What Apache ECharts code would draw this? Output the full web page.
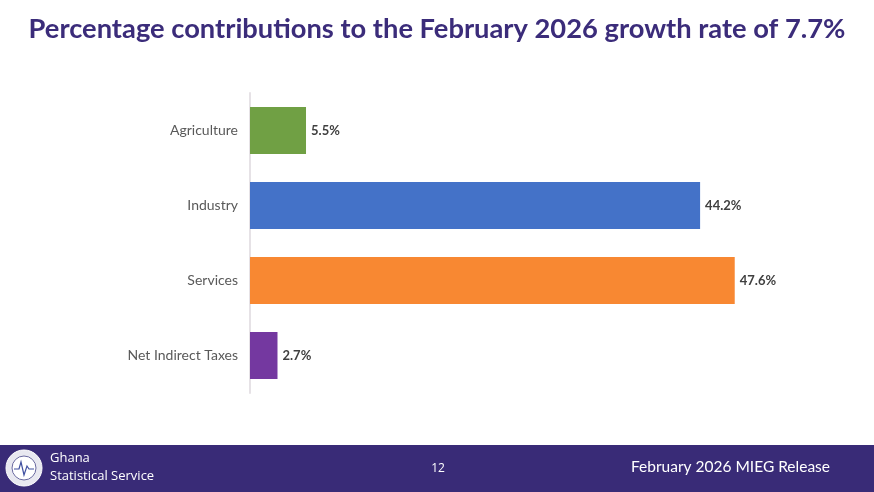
<!DOCTYPE html>
<html><head><meta charset="utf-8">
<script src="https://cdn.jsdelivr.net/npm/echarts@6/dist/echarts.min.js"></script>
<style>html,body{margin:0;padding:0;background:#fff}#c{width:874px;height:492px}</style>
</head><body><div id="c"></div>
<script>
const categories = ['Agriculture', 'Industry', 'Services', 'Net Indirect Taxes'];
const values = [5.5, 44.2, 47.6, 2.7];
const barColors = ['#70a044', '#4472c8', '#f88832', '#7438a0'];
const titleText = 'Percentage contributions to the February 2026 growth rate of 7.7%';
const footerLeft1 = 'Ghana';
const footerLeft2 = 'Statistical Service';
const pageNum = '12';
const footerRight = 'February 2026 MIEG Release';

const chart = echarts.init(document.getElementById('c'));
chart.setOption({
  animation: false,
  title: {
    text: titleText, left: 'center', top: 11,
    textStyle: { fontFamily: 'Lato', fontWeight: 'bold', fontSize: 27.3, color: '#3b2c7a' }
  },
  grid: { left: 250, top: 93, width: 611, height: 300, containLabel: false },
  xAxis: { type: 'value', min: 0, max: 60, show: false },
  yAxis: {
    type: 'category', data: categories, inverse: true,
    axisLine: { show: true, lineStyle: { color: '#e6e2e6', width: 2 } },
    axisTick: { show: false },
    axisLabel: { color: '#595959', fontSize: 14, fontFamily: 'Lato', margin: 12 }
  },
  series: [{
    type: 'bar', barWidth: 47,
    data: values.map((v, i) => ({ value: v, itemStyle: { color: barColors[i] } })),
    label: {
      show: true, position: 'right', distance: 5,
      formatter: p => p.value.toFixed(1) + '%',
      color: '#404040', fontWeight: 'bold', fontSize: 13, fontFamily: 'Lato'
    }
  }],
  graphic: [
    { type: 'rect', shape: { x: 0, y: 445, width: 874, height: 47 }, style: { fill: '#392b77' }, z: 10 },
    { type: 'circle', shape: { cx: 24, cy: 468, r: 18 }, style: { fill: '#e8e8f0', stroke: '#ffffff', lineWidth: 1 }, z: 11 },
    { type: 'circle', shape: { cx: 24, cy: 468, r: 12 }, style: { fill: '#ffffff', stroke: '#6a6aa0', lineWidth: 1 }, z: 12 },
    { type: 'polyline', shape: { points: [[14,469],[19,469],[21,462],[24,475],[27,466],[29,469],[34,469]] }, style: { stroke: '#4050a0', lineWidth: 1.2, fill: null }, z: 13 },
    { type: 'text', style: { x: 50, y: 452, text: footerLeft1, fill: '#ffffff', fontSize: 13, fontFamily: 'Open Sans' }, z: 12 },
    { type: 'text', style: { x: 50, y: 470, text: footerLeft2, fill: '#ffffff', fontSize: 13, fontFamily: 'Open Sans' }, z: 12 },
    { type: 'text', style: { x: 438, y: 469, text: pageNum, fill: '#ffffff', fontSize: 12, fontFamily: 'Open Sans', align: 'center', verticalAlign: 'middle' }, z: 12 },
    { type: 'text', style: { x: 830, y: 467, text: footerRight, fill: '#ffffff', fontSize: 15.5, fontFamily: 'Lato', align: 'right', verticalAlign: 'middle' }, z: 12 }
  ]
});
</script></body></html>
